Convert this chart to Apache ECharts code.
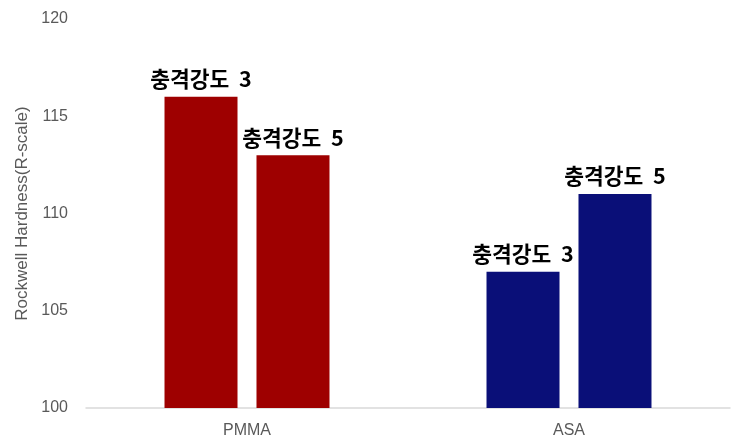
<!DOCTYPE html>
<html>
<head>
<meta charset="utf-8">
<script src="https://cdn.jsdelivr.net/npm/echarts@6/dist/echarts.min.js"></script>
<style>html,body{margin:0;padding:0;background:#fff}#c{width:735px;height:442px}</style>
</head>
<body>
<div id="c"></div>
<script>
const categories = ['PMMA', 'ASA'];
const seriesNames = ['충격강도 3', '충격강도 5'];
const impact3 = [116, 107];
const impact5 = [113, 111];
const categoryColors = ['#9E0000', '#0A0F78'];
const yTicks = [100, 105, 110, 115, 120];

const chart = echarts.init(document.getElementById('c'));
function mk(name, vals) {
  return {
    name: name,
    type: 'bar',
    barWidth: 73,
    barGap: '26%',
    data: vals.map((v, i) => ({ value: v, itemStyle: { color: categoryColors[i] } })),
    label: {
      show: true,
      position: 'top',
      distance: 7,
      formatter: () => name.replace(' ', '  '),
      fontFamily: '"Noto Sans CJK KR", sans-serif',
      fontWeight: 'bold',
      fontSize: 21.5,
      color: '#000'
    }
  };
}
chart.setOption({
  animation: false,
  grid: { left: 86, right: 5, top: 19, bottom: 34 },
  xAxis: {
    type: 'category',
    data: categories,
    axisLine: { lineStyle: { color: '#D9D9D9', width: 1.5 } },
    axisTick: { show: false },
    axisLabel: { color: '#595959', fontSize: 16, fontFamily: 'Liberation Sans, Arial, sans-serif', margin: 15 }
  },
  yAxis: {
    type: 'value',
    min: yTicks[0],
    max: yTicks[yTicks.length - 1],
    interval: 5,
    name: 'Rockwell Hardness(R-scale)',
    nameLocation: 'middle',
    nameGap: 54,
    nameTextStyle: { color: '#595959', fontSize: 17, fontFamily: 'Liberation Sans, Arial, sans-serif' },
    splitLine: { show: false },
    axisLine: { show: false },
    axisTick: { show: false },
    axisLabel: { color: '#595959', fontSize: 16, fontFamily: 'Liberation Sans, Arial, sans-serif', margin: 18 }
  },
  series: [mk(seriesNames[0], impact3), mk(seriesNames[1], impact5)]
});
</script>
</body>
</html>
